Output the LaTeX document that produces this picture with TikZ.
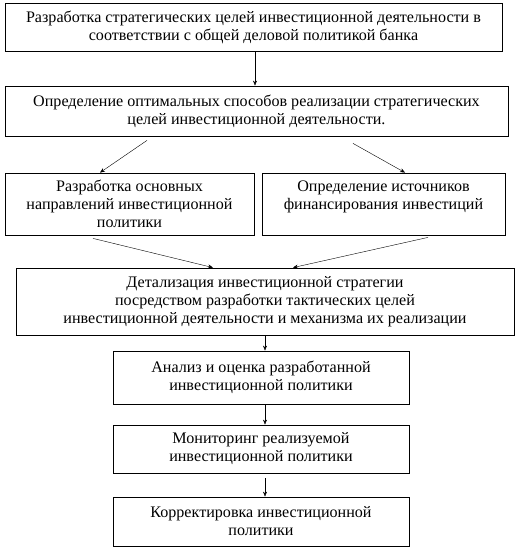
\documentclass[tikz,border=0pt]{standalone}
\usepackage{fontspec}
\setmainfont{Liberation Serif}
\usetikzlibrary{arrows.meta}

\begin{document}
\begin{tikzpicture}[x=1pt, y=-1pt, >={Stealth[length=5pt,width=4pt]},
    stagebox/.style={rectangle, draw, thick, align=center, inner sep=0pt,
      font=\fontsize{16.1}{18}\selectfont}]
      \useasboundingbox (0,0) rectangle (518,549);
      \node at(253.5,27) [stagebox, minimum width=497pt, minimum height=48pt] (goals)
        {Разработка стратегических целей инвестиционной деятельности в\\соответствии с общей деловой политикой банка};
      \node at(256.5,111) [stagebox, minimum width=503pt, minimum height=50pt] (ways)
        {Определение оптимальных способов реализации стратегических\\целей инвестиционной деятельности.};
      \node at(129.5,204) [stagebox, minimum width=249pt, minimum height=62pt] (directions)
        {Разработка основных\\направлений инвестиционной\\политики};
      \node at(383.5,204) [stagebox, minimum width=243pt, minimum height=62pt] (sources)
        {Определение источников\\финансирования инвестиций\\\mbox{}};
      \node at(265,301.5) [stagebox, minimum width=498pt, minimum height=67pt] (details)
        {Детализация инвестиционной стратегии\\посредством разработки тактических целей\\инвестиционной деятельности и механизма их реализации};
      \node at(261,377.5) [stagebox, minimum width=296pt, minimum height=53pt] (analysis)
        {Анализ и оценка разработанной\\инвестиционной политики};
      \node at(261,449) [stagebox, minimum width=296pt, minimum height=48pt] (monitoring)
        {Мониторинг реализуемой\\инвестиционной политики};
      \node at(261,521.5) [stagebox, minimum width=296pt, minimum height=49pt] (correction)
        {Корректировка инвестиционной\\политики};

      \path[->]
      ([xshift=1.5pt]goals.south) edge ([xshift=-1.5pt]ways.north)
      ([xshift=-109.5pt, yshift=-4pt]ways.south) edge ([xshift=-29.5pt]directions.north)
      ([xshift=96.5pt, yshift=-7pt]ways.south) edge ([xshift=21.5pt]sources.north)
      ([xshift=-36.5pt, yshift=-3pt]directions.south) edge ([xshift=-52pt]details.north)
      ([xshift=44.5pt, yshift=-2pt]sources.south) edge ([xshift=28pt]details.north)
      (details.south) edge ([xshift=4pt]analysis.north)
      ([xshift=4pt]analysis.south) edge ([xshift=4pt]monitoring.north)
      ([xshift=4pt]monitoring.south) edge[shorten <=5pt] ([xshift=4pt]correction.north)
      ;
\end{tikzpicture}
\end{document}
